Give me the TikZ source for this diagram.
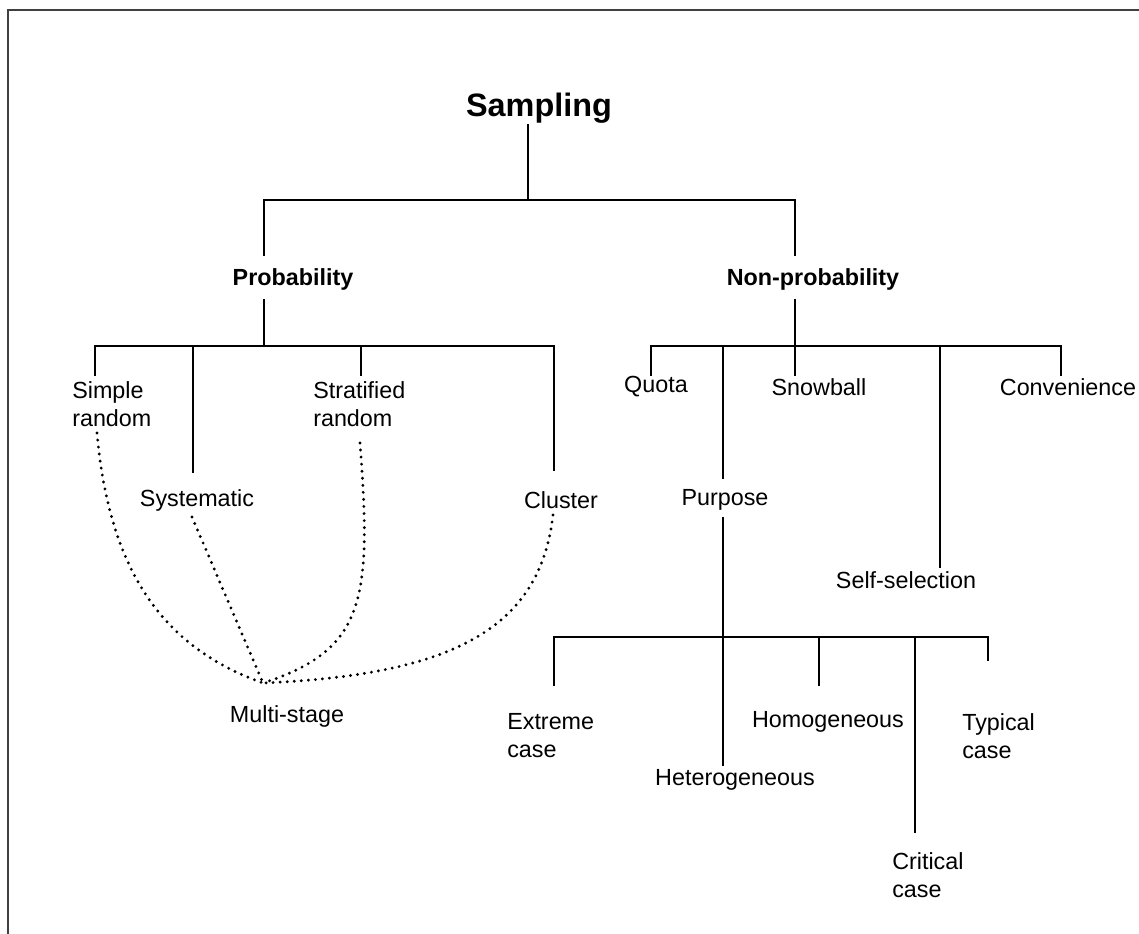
\documentclass[tikz,border=0pt]{standalone}
\usepackage{fontspec}
\setmainfont{Liberation Sans}
\begin{document}
\begin{tikzpicture}[x=0.75pt,y=-0.75pt,
  lbl/.style={inner sep=0pt, font=\fontsize{17.5}{21}\selectfont},
  blbl/.style={inner sep=0pt, font=\fontsize{17.5}{21}\selectfont\bfseries},
  ttl/.style={inner sep=0pt, font=\fontsize{24.3}{29}\selectfont\bfseries},
  ln/.style={line width=1.9pt, line cap=rect},
  frame/.style={line width=1.7pt, black!75},
  dots/.style={line width=2.4pt, line cap=round, dash pattern=on 0pt off 5.3pt}]
\useasboundingbox (0,0) rectangle (1139,934);
\draw[frame] (8,934) -- (8,10) -- (1139,10);

% nodes
\node[ttl] (sampling) at (539,108) {Sampling};
\node[blbl] (prob) at (293,279) {Probability};
\node[blbl] (nonprob) at (813,279) {Non-probability};
\node[lbl, align=left, anchor=west] (simple) at (72,404) {Simple\\random};
\node[lbl] (syst) at (197,500) {Systematic};
\node[lbl, align=left, anchor=west] (strat) at (313,404) {Stratified\\random};
\node[lbl] (cluster) at (561,500) {Cluster};
\node[lbl] (multi) at (287,716) {Multi-stage};
\node[lbl] (quota) at (656,387) {Quota};
\node[lbl] (purpose) at (725,500) {Purpose};
\node[lbl] (snowball) at (819,387) {Snowball};
\node[lbl] (selfsel) at (906,580) {Self-selection};
\node[lbl] (conv) at (1068,387) {Convenience};
\node[lbl, align=left, anchor=west] (extreme) at (507,736) {Extreme\\case};
\node[lbl] (hetero) at (735,780) {Heterogeneous};
\node[lbl] (homo) at (828,722) {Homogeneous};
\node[lbl, align=left, anchor=west] (critical) at (892,875) {Critical\\case};
\node[lbl, align=left, anchor=west] (typical) at (962,736) {Typical\\case};

% tree connectors
\draw[ln] (528,125) -- (528,200);
\draw[ln] (264,255) -- (264,200) -- (795,200) -- (795,255);
\draw[ln] (264,300) -- (264,346);
\draw[ln] (95,375) -- (95,346) -- (554,346) -- (554,470);
\draw[ln] (193,346) -- (193,472);
\draw[ln] (361,346) -- (361,375);
\draw[ln] (795,300) -- (795,346);
\draw[ln] (651,375) -- (651,346) -- (1061,346) -- (1061,375);
\draw[ln] (723,346) -- (723,478);
\draw[ln] (795,346) -- (795,375);
\draw[ln] (940,346) -- (940,567);
\draw[ln] (723,518) -- (723,765);
\draw[ln] (554,685) -- (554,637) -- (988,637) -- (988,660);
\draw[ln] (819,637) -- (819,685);
\draw[ln] (915,637) -- (915,832);

% dotted links to multi-stage
\coordinate (hub) at (263,683);
\draw[dots] (97,433) .. controls (110,580) and (170,650) .. (hub);
\draw[dots] (192,517) -- (hub);
\draw[dots] (360,443) .. controls (372,600) and (365,650) .. (hub);
\draw[dots] (553,515) .. controls (540,630) and (450,675) .. (hub);
\end{tikzpicture}
\end{document}
